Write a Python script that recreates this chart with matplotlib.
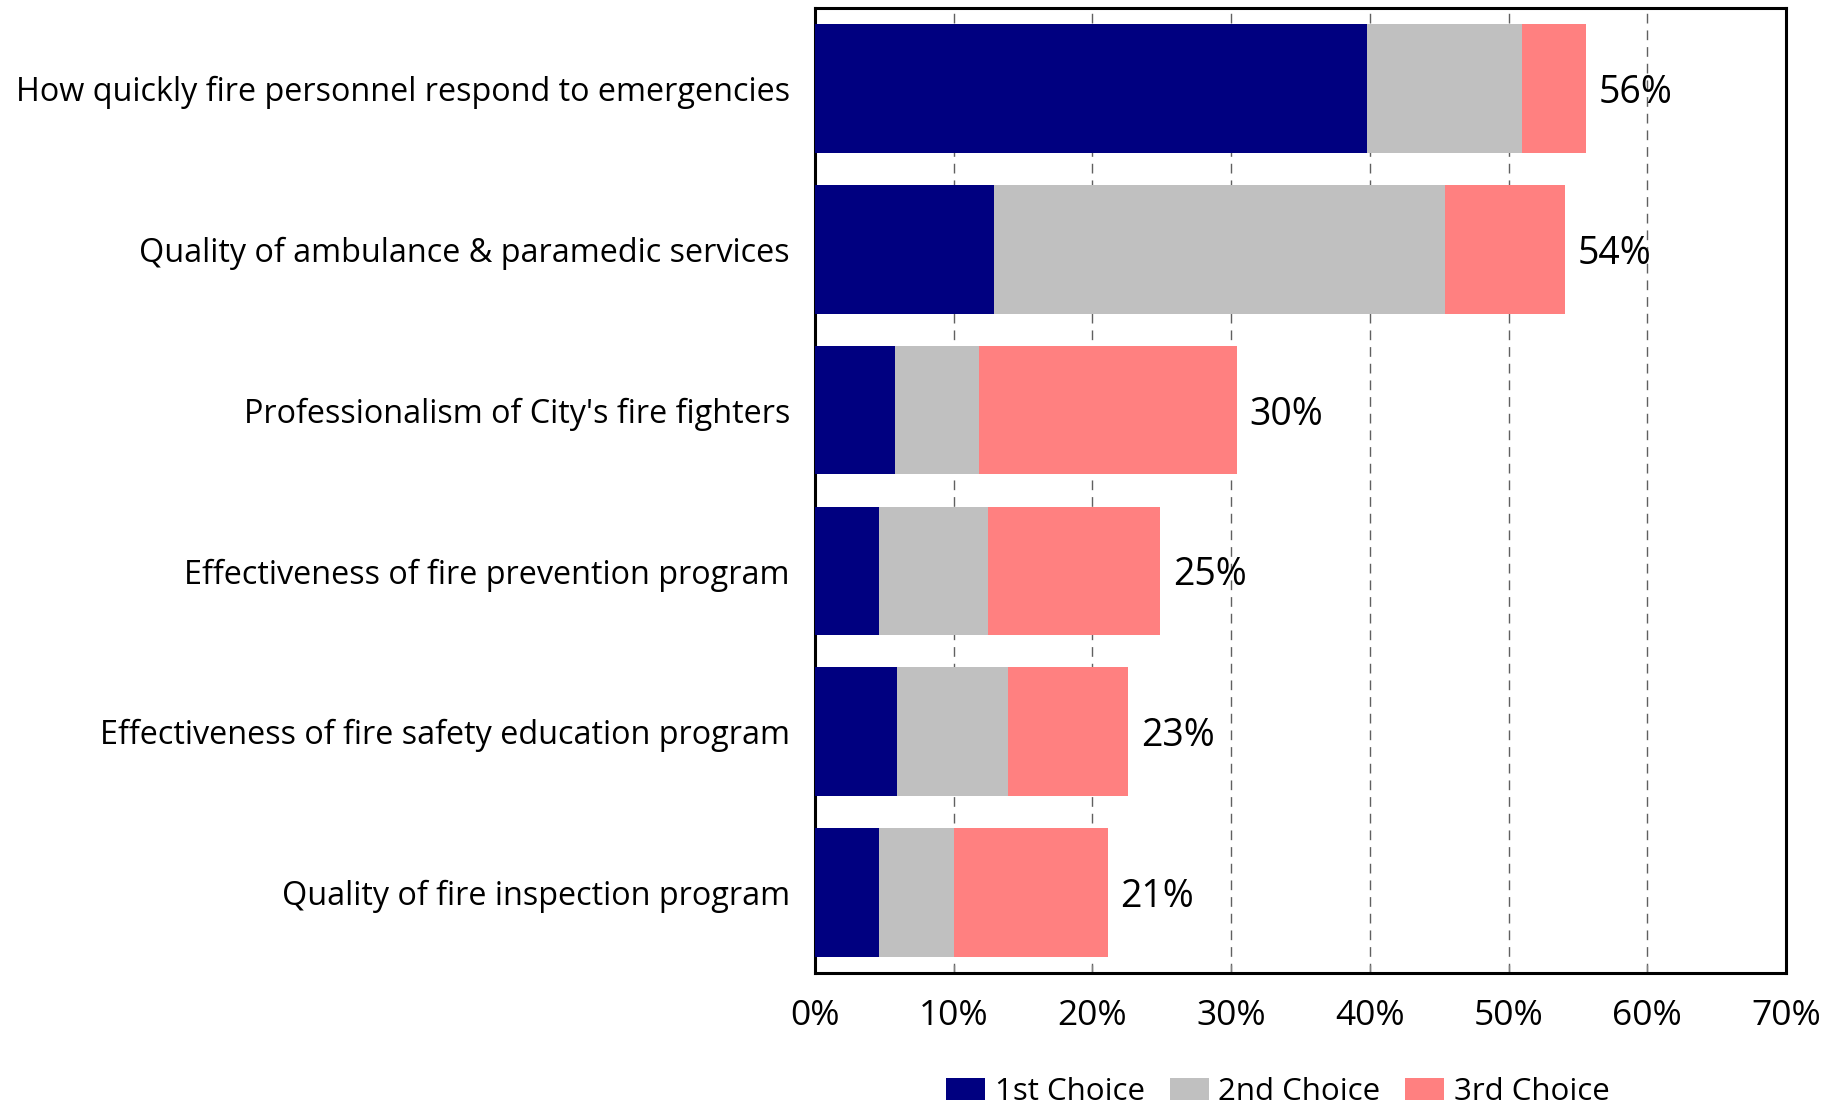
import numpy as np
import matplotlib
matplotlib.use("Agg")
import matplotlib.pyplot as plt
from matplotlib.ticker import PercentFormatter

plt.rcParams['font.family'] = ['Open Sans', 'DejaVu Sans']

# Survey items, top to bottom
categories = [
    "How quickly fire personnel respond to emergencies",
    "Quality of ambulance & paramedic services",
    "Professionalism of City's fire fighters",
    "Effectiveness of fire prevention program",
    "Effectiveness of fire safety education program",
    "Quality of fire inspection program",
]
first_choice = [39.8, 12.9, 5.8, 4.6, 5.9, 4.6]
second_choice = [11.2, 32.5, 6.0, 7.9, 8.0, 5.4]
third_choice = [4.6, 8.7, 18.6, 12.4, 8.7, 11.1]
series_names = ["1st Choice", "2nd Choice", "3rd Choice"]
colors = ["#000080", "#C0C0C0", "#FF8080"]
x_ticks = [0, 10, 20, 30, 40, 50, 60, 70]

fig = plt.figure(figsize=(18.43, 11.13), dpi=100)
ax = fig.add_axes([0.4422, 0.1258, 0.5269, 0.867])

y = np.arange(len(categories))
first = np.array(first_choice)
second = np.array(second_choice)
third = np.array(third_choice)

# stacked horizontal bars
ax.barh(y, first, height=0.8, color=colors[0], label=series_names[0], zorder=3)
ax.barh(y, second, left=first, height=0.8, color=colors[1], label=series_names[1], zorder=3)
ax.barh(y, third, left=first + second, height=0.8, color=colors[2], label=series_names[2], zorder=3)

totals = first + second + third
for yi, tot in zip(y, totals):
    ax.annotate(f"{round(tot):.0f}%", xy=(tot, yi), xytext=(9, 0),
                textcoords="offset points", va="center_baseline", ha="left",
                fontsize=27, zorder=4)

ax.set_xlim(0, 70)
ax.set_ylim(len(categories) - 0.5, -0.5)
ax.set_xticks(x_ticks)
ax.xaxis.set_major_formatter(PercentFormatter(decimals=0))
ax.set_yticks(y)
ax.set_yticklabels(categories)

ax.grid(axis="x", color="#606060", linestyle=(0, (7, 5)), linewidth=1, zorder=0)
ax.tick_params(axis="x", direction="in", length=6, width=1, color="#808080",
               labelsize=25.5, pad=19)
ax.tick_params(axis="y", length=0, labelsize=23.3, pad=18)

for s in ax.spines.values():
    s.set_linewidth(2.2)
    s.set_color("black")

fig.legend(loc="center", bbox_to_anchor=(0.6934, 0.019), ncol=3, frameon=False,
           fontsize=22.5, handlelength=1.25, handleheight=0.75, handletextpad=0.3,
           columnspacing=0.8, borderpad=0.1)

fig.savefig("out.png", dpi=100)
